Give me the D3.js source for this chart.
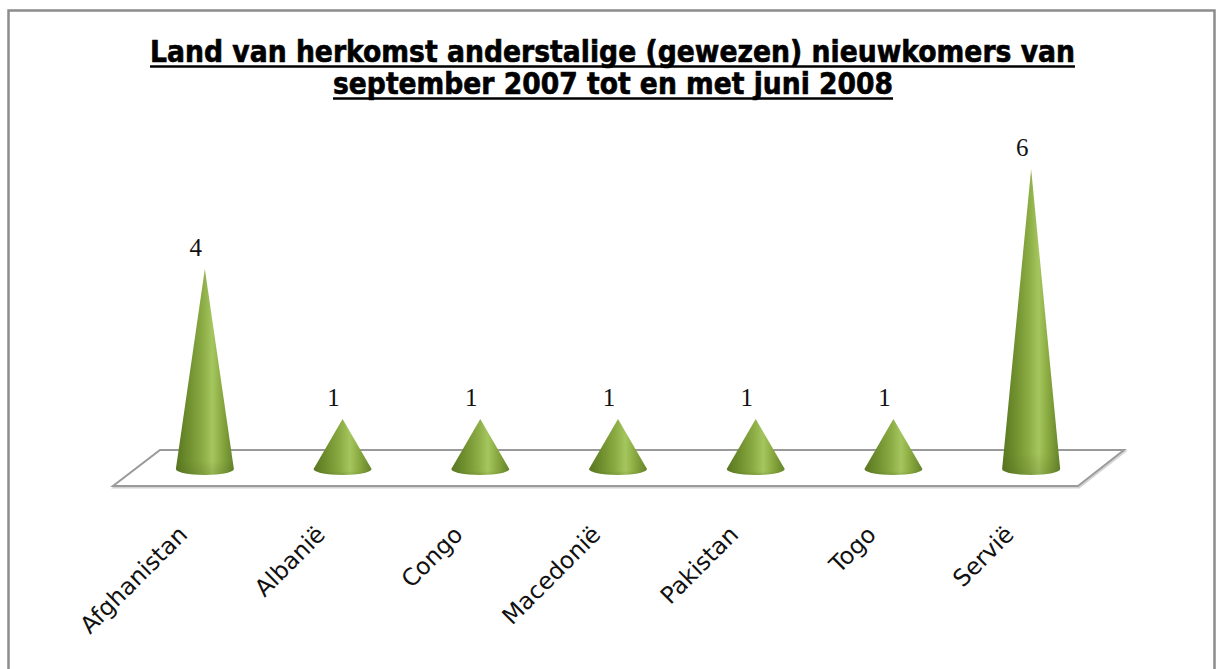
<!DOCTYPE html>
<html>
<head>
<meta charset="utf-8">
<script src="https://cdn.jsdelivr.net/npm/d3@7/dist/d3.min.js"></script>
<style>
  html, body { margin: 0; padding: 0; background: #fff; }
  svg { display: block; }
</style>
</head>
<body>
<svg id="chart" width="1216" height="669"></svg>
<script>
// Countries of origin and number of newcomers per country
const categories = ["Afghanistan", "Albanië", "Congo", "Macedonië", "Pakistan", "Togo", "Servië"];
const values = [4, 1, 1, 1, 1, 1, 6];
const titleLines = [
  "Land van  herkomst anderstalige (gewezen) nieuwkomers van",
  "september 2007 tot en met juni 2008"
];

const svg = d3.select("#chart");

// Outer frame
svg.append("rect")
  .attr("x", 8.5).attr("y", 10.5)
  .attr("width", 1206).attr("height", 700)
  .attr("fill", "#fff")
  .attr("stroke", "#8c8c8c").attr("stroke-width", 2.5);

// Scales
const x = d3.scaleBand().domain(categories).range([136, 1100]);
const y = d3.scaleLinear().domain([0, 6]).range([469, 169]);
const cx = d => x(d) + x.bandwidth() / 2;

// Cone gradient (cylindrical shading left to right)
const defs = svg.append("defs");
const grad = defs.append("linearGradient").attr("id", "coneGrad")
  .attr("x1", "0").attr("x2", "1").attr("y1", "0").attr("y2", "0");
[["0", "#587620"], ["0.2", "#6d8d2d"], ["0.45", "#8aaa43"], ["0.63", "#a5c55e"],
 ["0.8", "#88a83f"], ["1", "#63832b"]]
  .forEach(([o, c]) => grad.append("stop").attr("offset", o).attr("stop-color", c));

const rimGrad = defs.append("linearGradient").attr("id", "rimGrad")
  .attr("x1", "0").attr("x2", "0").attr("y1", "0").attr("y2", "1");
rimGrad.append("stop").attr("offset", "0").attr("stop-color", "#3a5214").attr("stop-opacity", 0);
rimGrad.append("stop").attr("offset", "0.93").attr("stop-color", "#3a5214").attr("stop-opacity", 0);
rimGrad.append("stop").attr("offset", "1").attr("stop-color", "#3a5214").attr("stop-opacity", 0.18);

// Floor (3-D base plane)
const [r0, r1] = x.range();
const floorBack = 450, floorFront = 486;
const floor = [
  [r0 + 24, floorBack], [r1 + 24, floorBack],
  [r1 - 22, floorFront], [r0 - 23, floorFront]
];
svg.append("path")
  .attr("d", d3.line()(floor.map(p => [p[0] + 1, p[1] + 1.5])) + "Z")
  .attr("fill", "none").attr("stroke", "#d4d4d4").attr("stroke-width", 2);
svg.append("path")
  .attr("d", d3.line()(floor) + "Z")
  .attr("fill", "#fff").attr("stroke", "#9a9a9a").attr("stroke-width", 2);

// Cones
const rx = 29, ry = 6;
const conePath = (d, v) => {
  const c = cx(d), b = y(0), t = y(v);
  return `M${c - rx},${b} L${c},${t} L${c + rx},${b} A${rx},${ry} 0 0 1 ${c - rx},${b} Z`;
};
const data = categories.map((c, i) => ({ cat: c, val: values[i] }));

svg.append("g").selectAll("path.cone")
  .data(data).join("path")
  .attr("class", "cone")
  .attr("d", d => conePath(d.cat, d.val))
  .attr("fill", "url(#coneGrad)");
svg.append("g").selectAll("path.rim")
  .data(data).join("path")
  .attr("class", "rim")
  .attr("d", d => conePath(d.cat, d.val))
  .attr("fill", "url(#rimGrad)");

// Value labels
svg.append("g").selectAll("text")
  .data(data).join("text")
  .attr("x", d => cx(d.cat) - 9)
  .attr("y", d => y(d.val) - 13)
  .attr("text-anchor", "middle")
  .attr("font-family", "'Liberation Serif', 'DejaVu Serif', serif")
  .attr("font-size", 25)
  .attr("fill", "#111")
  .text(d => d.val);

// Category labels, rotated
svg.append("g").selectAll("text")
  .data(categories).join("text")
  .attr("transform", d => `translate(${cx(d) - 16},${536}) rotate(-45)`)
  .attr("text-anchor", "end")
  .attr("font-family", "'DejaVu Sans', Verdana, sans-serif")
  .attr("font-size", 23.5)
  .attr("fill", "#111")
  .text(d => d);

// Title
const titleSpec = [
  { text: titleLines[0], y: 62, x0: 150, x1: 1075 },
  { text: titleLines[1], y: 94, x0: 333, x1: 893 }
];
const tg = svg.append("g");
titleSpec.forEach(t => {
  tg.append("text")
    .attr("x", t.x0).attr("y", t.y)
    .attr("font-family", "'DejaVu Sans Condensed', 'DejaVu Sans', sans-serif")
    .attr("font-weight", "bold")
    .attr("font-size", 30)
    .attr("fill", "#000")
    .attr("stroke", "#000").attr("stroke-width", 0.6)
    .attr("textLength", t.x1 - t.x0)
    .attr("lengthAdjust", "spacingAndGlyphs")
    .text(t.text);
  tg.append("line")
    .attr("x1", t.x0).attr("x2", t.x1)
    .attr("y1", t.y + 4.5).attr("y2", t.y + 4.5)
    .attr("stroke", "#000").attr("stroke-width", 2.4);
});
</script>
</body>
</html>
